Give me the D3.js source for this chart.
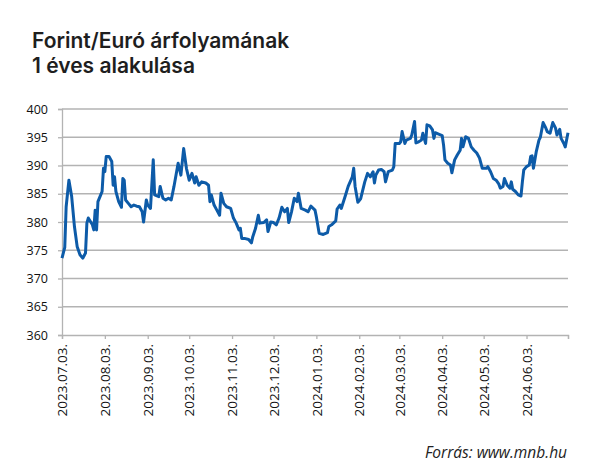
<!DOCTYPE html>
<html>
<head>
<meta charset="utf-8">
<script src="https://cdn.jsdelivr.net/npm/d3@7"></script>
<style>
  body { margin: 0; background: #fff; }
  svg { display: block; }
</style>
</head>
<body>
<div id="chart"></div>
<script>
// napok (dátum) es az arfolyam ertekek, a kepről leolvasva
var dates = [
  "2023-07-03","2023-07-05","2023-07-06","2023-07-08","2023-07-10","2023-07-12","2023-07-14","2023-07-16",
  "2023-07-18","2023-07-20","2023-07-21","2023-07-22","2023-07-25","2023-07-26","2023-07-27","2023-07-28",
  "2023-07-29","2023-07-31","2023-08-01","2023-08-02","2023-08-03","2023-08-04","2023-08-06","2023-08-08",
  "2023-08-09","2023-08-10","2023-08-11","2023-08-13","2023-08-15","2023-08-16","2023-08-17","2023-08-18",
  "2023-08-20","2023-08-22","2023-08-24","2023-08-26","2023-08-28","2023-08-30","2023-08-31","2023-09-02",
  "2023-09-03","2023-09-05","2023-09-07","2023-09-08","2023-09-11","2023-09-12","2023-09-14","2023-09-16",
  "2023-09-18","2023-09-20","2023-09-22","2023-09-25","2023-09-27","2023-09-29","2023-10-01","2023-10-03",
  "2023-10-05","2023-10-07","2023-10-08","2023-10-10","2023-10-12","2023-10-15","2023-10-17","2023-10-18",
  "2023-10-19","2023-10-21","2023-10-23","2023-10-25","2023-10-26","2023-10-28","2023-10-30","2023-11-02",
  "2023-11-04","2023-11-06","2023-11-08","2023-11-09","2023-11-10","2023-11-12","2023-11-15","2023-11-17",
  "2023-11-18","2023-11-20","2023-11-22","2023-11-23","2023-11-26","2023-11-28","2023-11-29","2023-12-01",
  "2023-12-03","2023-12-05","2023-12-07","2023-12-09","2023-12-11","2023-12-13","2023-12-14","2023-12-16",
  "2023-12-18","2023-12-20","2023-12-21","2023-12-23","2023-12-26","2023-12-28","2023-12-30","2024-01-02",
  "2024-01-03","2024-01-05","2024-01-08","2024-01-11","2024-01-12","2024-01-14","2024-01-17","2024-01-18",
  "2024-01-20","2024-01-21","2024-01-24","2024-01-26","2024-01-29","2024-01-30","2024-01-31","2024-02-02",
  "2024-02-04","2024-02-07","2024-02-09","2024-02-11","2024-02-13","2024-02-14","2024-02-15","2024-02-17",
  "2024-02-19","2024-02-21","2024-02-22","2024-02-24","2024-02-27","2024-02-28","2024-02-29","2024-03-03",
  "2024-03-04","2024-03-05","2024-03-07","2024-03-08","2024-03-11","2024-03-12","2024-03-14","2024-03-15",
  "2024-03-17","2024-03-19","2024-03-20","2024-03-22","2024-03-23","2024-03-25","2024-03-27","2024-03-28",
  "2024-03-29","2024-03-31","2024-04-03","2024-04-04","2024-04-05","2024-04-07","2024-04-09","2024-04-10",
  "2024-04-12","2024-04-14","2024-04-16","2024-04-17","2024-04-18","2024-04-20","2024-04-22","2024-04-24",
  "2024-04-26","2024-04-28","2024-04-30","2024-05-02","2024-05-05","2024-05-06","2024-05-08","2024-05-10",
  "2024-05-12","2024-05-14","2024-05-15","2024-05-17","2024-05-18","2024-05-20","2024-05-22","2024-05-23",
  "2024-05-24","2024-05-26","2024-05-28","2024-05-30","2024-05-31","2024-06-01","2024-06-03","2024-06-05",
  "2024-06-06","2024-06-07","2024-06-08","2024-06-10","2024-06-12","2024-06-13","2024-06-15","2024-06-17",
  "2024-06-18","2024-06-20","2024-06-22","2024-06-24","2024-06-25","2024-06-27","2024-06-28","2024-06-30",
  "2024-07-01","2024-07-03"
];

var values = [
  373.6,375.5,382.7,387.4,384.5,379.2,375.6,374.2,
  373.6,374.5,379.8,380.7,379.5,378.6,382.1,378.6,
  383.6,384.8,385.4,389.5,388.9,391.6,391.6,390.7,
  386.5,388.0,385.4,383.6,382.6,387.7,387.4,383.9,
  383.3,382.7,383.0,382.8,382.7,381.8,380.0,383.9,
  383.0,382.4,391.0,384.8,384.5,386.3,384.2,383.9,
  384.2,383.9,386.3,390.4,388.3,393.0,389.5,387.4,
  388.6,386.9,388.0,386.5,387.1,386.9,386.5,383.6,
  384.8,383.0,382.1,381.2,385.1,383.3,382.7,382.4,
  380.7,379.8,378.6,378.9,377.1,377.1,376.9,376.3,
  377.4,378.9,381.2,379.8,379.9,380.4,378.3,380.0,
  379.9,379.5,380.7,382.6,381.8,382.4,379.9,381.8,
  384.2,383.6,385.1,382.4,382.1,381.8,382.8,382.1,
  380.9,378.0,377.8,378.1,379.2,379.5,380.2,382.3,
  383.0,382.4,384.7,386.3,388.0,389.5,386.3,383.5,
  384.1,387.1,388.6,388.0,388.9,386.9,388.3,389.2,
  389.3,388.9,387.1,388.9,389.2,389.8,393.9,393.9,
  394.2,396.0,393.9,394.5,394.8,395.4,397.8,394.0,
  394.2,394.5,395.7,393.9,397.2,397.0,396.3,394.8,
  395.8,395.6,395.3,393.6,391.0,390.4,390.1,388.7,
  391.0,391.9,392.7,394.8,393.3,395.1,394.8,393.3,
  392.7,392.2,391.3,389.5,389.5,389.8,388.9,387.7,
  387.4,386.7,386.0,386.3,387.7,386.5,386.0,387.1,
  385.8,385.4,384.8,384.6,387.1,389.2,389.8,390.1,
  391.6,391.7,389.5,392.4,394.5,395.0,397.6,396.6,
  396.0,395.7,397.6,396.6,395.4,396.4,394.8,393.9,
  393.3,395.8
];

var yTicks = [360, 365, 370, 375, 380, 385, 390, 395, 400];
var xTickDates = [
  "2023-07-03","2023-08-03","2023-09-03","2023-10-03","2023-11-03","2023-12-03",
  "2024-01-03","2024-02-03","2024-03-03","2024-04-03","2024-05-03","2024-06-03","2024-07-03"
];

var titleLines = ["Forint/Euró árfolyamának", "1 éves alakulása"];
var source = "Forrás: www.mnb.hu";

var width = 600, height = 463;
var parse = d3.timeParse("%Y-%m-%d");
var fmt = d3.timeFormat("%Y.%m.%d.");

var data = dates.map(function(d, i) { return { date: parse(d), value: values[i] }; });
var tickDates = xTickDates.map(parse);

var x = d3.scaleTime()
    .domain([tickDates[0], tickDates[tickDates.length - 1]])
    .range([62, 568]);

var y = d3.scaleLinear()
    .domain([360, 400])
    .range([335, 109]);

var svg = d3.select("#chart")
    .append("svg")
    .attr("width", width)
    .attr("height", height);

// cim
svg.append("text")
    .attr("x", 32)
    .attr("font-family", "Inter, 'Open Sans', sans-serif")
    .attr("font-weight", 600)
    .attr("font-size", 21)
    .attr("fill", "#1e1e1e")
    .selectAll("tspan")
    .data(titleLines)
    .enter()
    .append("tspan")
    .attr("x", 32)
    .attr("y", function(d, i) { return 48 + i * 25; })
    .text(function(d) { return d; });

// racsvonalak
svg.append("g")
    .selectAll("line")
    .data(yTicks.slice(1))
    .enter()
    .append("line")
    .attr("x1", 62)
    .attr("x2", 568)
    .attr("y1", function(d) { return y(d); })
    .attr("y2", function(d) { return y(d); })
    .attr("stroke", "#b3b3b3")
    .attr("stroke-width", 1.3);

var yAxis = svg.append("g")
    .attr("transform", "translate(62,0)")
    .call(d3.axisLeft(y).tickValues(yTicks).tickSize(4).tickPadding(10));

var xAxis = svg.append("g")
    .attr("transform", "translate(0,335)")
    .call(d3.axisBottom(x).tickValues(tickDates).tickSize(4).tickFormat(function(d, i) {
        return i < tickDates.length - 1 ? fmt(d) : "";
    }));

[yAxis, xAxis].forEach(function(a) {
    a.select(".domain").attr("stroke", "#b3b3b3").attr("stroke-width", 1.3);
    a.selectAll(".tick line").attr("stroke", "#b3b3b3").attr("stroke-width", 1.3);
    a.selectAll("text")
        .attr("font-family", "'Open Sans', sans-serif")
        .attr("font-size", 12.5)
        .attr("fill", "#111");
});

xAxis.selectAll(".tick text")
    .attr("transform", "rotate(-90)")
    .attr("text-anchor", "end")
    .attr("font-size", 13.5)
    .attr("x", -9)
    .attr("y", 0)
    .attr("dy", "0.35em");

// a vonal
var line = d3.line()
    .x(function(d) { return x(d.date); })
    .y(function(d) { return y(d.value); });

svg.append("path")
    .datum(data)
    .attr("d", line)
    .attr("fill", "none")
    .attr("stroke", "#0d5ba8")
    .attr("stroke-width", 3)
    .attr("stroke-linejoin", "round");

// forras
svg.append("text")
    .attr("x", 567)
    .attr("y", 458)
    .attr("text-anchor", "end")
    .attr("font-family", "'Open Sans', sans-serif")
    .attr("font-style", "italic")
    .attr("font-size", 15.5)
    .attr("fill", "#222")
    .text(source);
</script>
</body>
</html>
